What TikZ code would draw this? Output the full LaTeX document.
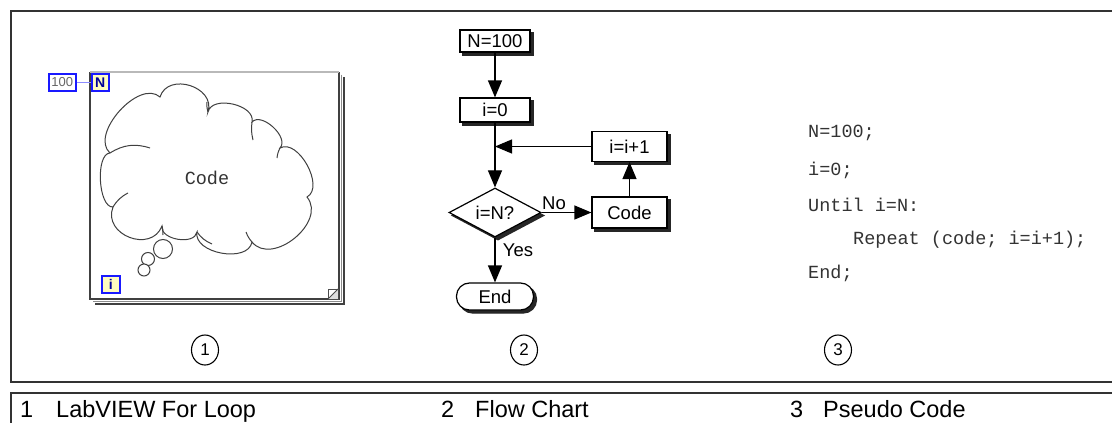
\documentclass[tikz,border=0pt]{standalone}
\usepackage{fontspec}
\setmainfont{Liberation Sans}
\newfontfamily\codefont{Liberation Mono}
\usetikzlibrary{arrows.meta,shapes.geometric,shadows}
\begin{document}
\begin{tikzpicture}[x=1pt,y=-1pt,
  frameline/.style={line width=1.6pt, black!80},
  fcbox/.style={draw, line width=1.2pt, fill=white, inner sep=0pt,
    font=\fontsize{18.5}{20}\selectfont,
    copy shadow={shadow xshift=3pt, shadow yshift=-3pt, fill=black!85, draw=black!85}},
  arr/.style={line width=1.2pt, -{Triangle[length=17pt,width=14pt]}},
  lbl/.style={font=\fontsize{18.5}{20}\selectfont, inner sep=0pt},
  code/.style={font=\codefont\fontsize{18.5}{20}\selectfont, text=black!80, anchor=west, inner sep=0pt},
  legend/.style={font=\fontsize{23.5}{26}\selectfont, anchor=base west, inner sep=0pt},
  circnum/.style={draw, ellipse, line width=1.1pt, minimum width=27pt, minimum height=30pt, inner sep=0pt,
    font=\fontsize{17}{18}\selectfont},
  vi/.style={draw=blue!90, line width=1.6pt, inner sep=0pt, anchor=north west},
  cloudline/.style={line width=1pt, black!75},
  loopedge/.style={line width=1.2pt, black!75}
]
\useasboundingbox (0,0) rectangle (1112,423);
\fill[white] (0,0) rectangle (1112,423);

% outer frames
\draw[frameline] (1112,11) -- (11,11) -- (11,382) -- (1112,382);
\draw[frameline] (1112,393) -- (11,393) -- (11,423);

% ---------- LabVIEW For Loop ----------
\draw[black!75, line width=1.2pt] (344,77) -- (344,304) -- (95,304);
\draw[black!45, line width=1pt] (341.5,74.5) -- (341.5,301.5) -- (92.5,301.5);
\draw[loopedge] (90,72) -- (90,299) -- (339,299) -- (339,72);
\draw[gray!55, line width=1.2pt] (90,72) -- (339,72);
\fill[gray!25] (338,289) -- (338,299) -- (328,299) -- cycle;
\draw[black!70, line width=0.8pt] (328,289) rectangle (338,299);
\draw[black!70, line width=0.8pt] (328,299) -- (338,289);

% cloud
\draw[cloudline] (110,153)
  to[bend left=90, looseness=0.95] (160,97)
  to[bend left=90, looseness=1.35] (208,112)
  to[bend left=90, looseness=1.0] (252,122)
  to[bend left=90, looseness=0.95] (280,148)
  to[bend left=90, looseness=0.95] (307,197)
  to[bend left=90, looseness=1.15] (252,242)
  to[bend left=90, looseness=1.0] (197,232)
  to[bend left=90, looseness=1.0] (162,226)
  to[bend left=90, looseness=1.45] (113,207)
  to[bend left=90, looseness=0.7] (110,153);
% inner strokes of the cloud
\draw[cloudline] (110,153) to[bend left=25] (150,148);
\draw[cloudline] (208,112) to[bend left=10] (207,102);
\draw[cloudline] (252,122) to[bend right=10] (253,140);
\draw[cloudline] (280,148) to[bend right=10] (277,158);
\draw[cloudline] (162,226) to[bend left=10] (163,235);
\draw[cloudline] (113,207) to[bend left=15] (128,193);
\draw[cloudline] (197,232) to[bend right=15] (212,244);
\draw[cloudline] (252,242) to[bend left=10] (246,232);
% thought bubbles
\draw[cloudline, fill=white] (163,249) circle (9.5);
\draw[cloudline, fill=white] (148,259) circle (6.5);
\draw[cloudline, fill=white] (144,270) circle (6);
\node[code, anchor=center] (cloudtxt) at (207,178) {Code};

% terminals
\node[vi, fill=white, minimum width=27pt, minimum height=17pt, text=black!60,
  font=\fontsize{13}{14}\selectfont] (hundred) at (48,73) {100};
\node[vi, fill=yellow!25, minimum width=17pt, minimum height=17pt, text=blue!60!black,
  font=\bfseries\fontsize{14}{15}\selectfont] (nterm) at (91,73) {N};
\draw[blue!45, line width=1pt] (hundred) -- (nterm);
\node[vi, fill=yellow!25, minimum width=18pt, minimum height=17pt, text=blue!60!black,
  font=\bfseries\fontsize{14}{15}\selectfont] (iterm) at (101,275) {i};

% ---------- Flow chart ----------
\node[fcbox, minimum width=70pt, minimum height=22pt] (n100) at (495,41) {N=100};
\node[fcbox, minimum width=70pt, minimum height=24pt] (i0) at (495,110) {i=0};
\node[fcbox, minimum width=75pt, minimum height=30pt] (inc) at (629.5,146.5) {i=i+1};
\node[fcbox, minimum width=75pt, minimum height=31pt] (code) at (629.5,212.5) {Code};
\node[fcbox, diamond, aspect=1.88, minimum width=92pt, minimum height=49pt] (dec) at (495,212.5) {i=N?};
\node[fcbox, rounded corners=13pt, minimum width=77pt, minimum height=27pt] (end) at (495,296.5) {End};

\coordinate (m) at (i0.south |- inc.west);
\draw[arr] (n100) -- (i0);
\draw[arr] (i0) -- (dec);
\draw[arr] (inc) -- (m);
\draw[arr] (dec) -- (code);
\draw[arr] (code) -- (inc);
\draw[arr] (dec) -- (end);
\node[lbl] (no) at (554,203) {No};
\node[lbl] (yes) at (518,250) {Yes};

% ---------- Pseudo code ----------
\node[code] (p1) at (808,133) {N=100;};
\node[code] (p2) at (808,170) {i=0;};
\node[code] (p3) at (808,205) {Until i=N:};
\node[code] (p4) at (853,240) {Repeat (code; i=i+1);};
\node[code] (p5) at (808,273) {End;};

% ---------- numbers ----------
\node[circnum] (c1) at (205,350) {1};
\node[circnum] (c2) at (524,350) {2};
\node[circnum] (c3) at (838,350) {3};

% ---------- legend ----------
\node[legend] (l1n) at (20,417) {1};
\node[legend] (l1) at (56,417) {LabVIEW For Loop};
\node[legend] (l2n) at (441,417) {2};
\node[legend] (l2) at (475,417) {Flow Chart};
\node[legend] (l3n) at (790,417) {3};
\node[legend] (l3) at (823,417) {Pseudo Code};
\end{tikzpicture}
\end{document}
